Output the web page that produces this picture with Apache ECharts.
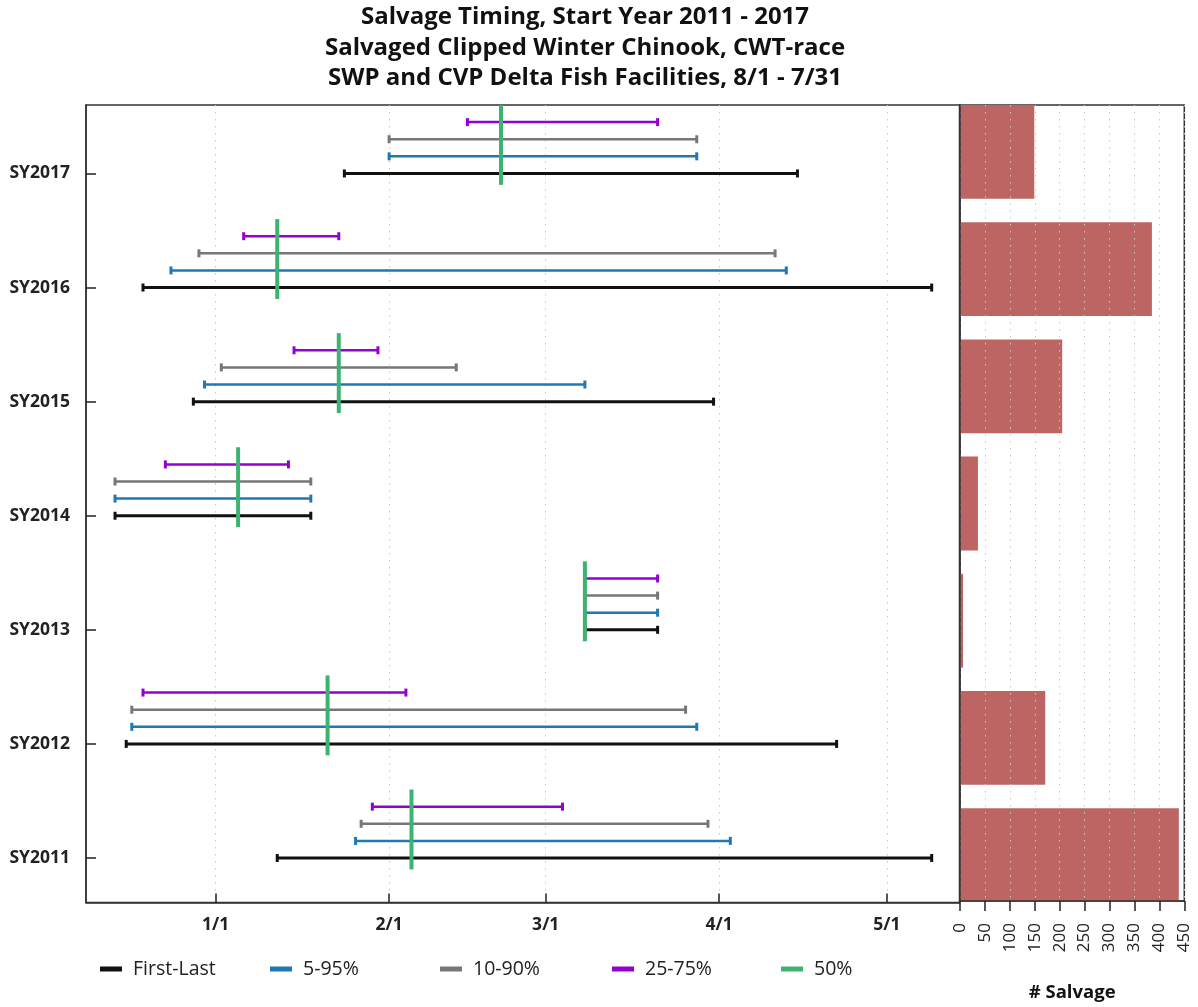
<!DOCTYPE html>
<html><head><meta charset="utf-8">
<script src="https://cdn.jsdelivr.net/npm/echarts@6/dist/echarts.min.js"></script>
<style>html,body{margin:0;padding:0;background:#fff}#chart{width:1198px;height:1007px}</style>
</head><body><div id="chart"></div>
<script>
// ---- data (season dates as M/D; Aug-Dec belong to the previous calendar year) ----
const categories = ['SY2011','SY2012','SY2013','SY2014','SY2015','SY2016','SY2017'];
const firstDate = ['1/12','12/16','3/8','12/14','12/28','12/19','1/24'];
const lastDate  = ['5/9','4/22','3/21','1/18','3/31','5/9','4/15'];
const p5Date    = ['1/26','12/17','3/8','12/14','12/30','12/24','2/1'];
const p95Date   = ['4/3','3/28','3/21','1/18','3/8','4/13','3/28'];
const p10Date   = ['1/27','12/17','3/8','12/14','1/2','12/29','2/1'];
const p90Date   = ['3/30','3/26','3/21','1/18','2/13','4/11','3/28'];
const p25Date   = ['1/29','12/19','3/8','12/23','1/15','1/6','2/15'];
const p75Date   = ['3/4','2/4','3/21','1/14','1/30','1/23','3/21'];
const p50Date   = ['2/5','1/21','3/8','1/5','1/23','1/12','2/21'];
const salvage   = [439, 171, 6, 36, 205, 385, 149];
const xTickLabels = ['1/1','2/1','3/1','4/1','5/1'];
const salvageTicks = [0,50,100,150,200,250,300,350,400,450];

const MONTH_START = [0,31,59,90,120,151,181,212,243,273,304,334];
function toDay(md){
  const [m,d] = md.split('/').map(Number);
  let v = MONTH_START[m-1] + d - 1;
  if (m >= 8) v -= 365;
  return v;
}
const tickDays = xTickLabels.map(toDay);
const FONT = 'Open Sans';

function rangeSeries(name, color, starts, ends, offset, lw){
  return {
    type:'custom', name, xAxisIndex:0, yAxisIndex:0, z:3,
    itemStyle:{color},
    data: categories.map((c,i)=>[toDay(starts[i]), toDay(ends[i]), i]),
    encode:{x:[0,1], y:2},
    renderItem(params, api){
      const y = api.value(2) + offset;
      const p1 = api.coord([api.value(0), y]);
      const p2 = api.coord([api.value(1), y]);
      const h = 4;
      return {type:'group', children:[
        {type:'line', shape:{x1:p1[0],y1:p1[1],x2:p2[0],y2:p2[1]}, style:{stroke:color, lineWidth:lw}},
        {type:'line', shape:{x1:p1[0],y1:p1[1]-h,x2:p1[0],y2:p1[1]+h}, style:{stroke:color, lineWidth:3}},
        {type:'line', shape:{x1:p2[0],y1:p2[1]-h,x2:p2[0],y2:p2[1]+h}, style:{stroke:color, lineWidth:3}}
      ]};
    }
  };
}

const series = [
  rangeSeries('First-Last', '#111111', firstDate, lastDate, 0, 3),
  rangeSeries('5-95%', '#1f77b4', p5Date, p95Date, 0.15, 2.5),
  rangeSeries('10-90%', '#777777', p10Date, p90Date, 0.3, 2.5),
  rangeSeries('25-75%', '#9400d3', p25Date, p75Date, 0.45, 2.5),
  {
    type:'custom', name:'50%', xAxisIndex:0, yAxisIndex:0, z:4,
    itemStyle:{color:'#3cb371'},
    data: categories.map((c,i)=>[toDay(p50Date[i]), i]),
    encode:{x:0, y:1},
    renderItem(params, api){
      const a = api.coord([api.value(0), api.value(1) - 0.1]);
      const b = api.coord([api.value(0), api.value(1) + 0.6]);
      return {type:'rect', shape:{x:a[0]-2, y:b[1], width:4, height:a[1]-b[1]}, style:{fill:'#3cb371'}};
    }
  },
  {
    type:'bar', name:'# Salvage', xAxisIndex:1, yAxisIndex:1, z:2,
    data: salvage, barCategoryGap:'20%',
    itemStyle:{color:'#bd6562'}
  }
];

const legendNames = ['First-Last','5-95%','10-90%','25-75%','50%'];
const legendLeft = [100, 270, 440, 612, 781];
const legends = legendNames.map((n,i)=>({
  data:[{name:n, icon:'rect'}], left:legendLeft[i], top:959, padding:0,
  itemWidth:22, itemHeight:5, itemGap:0, selectedMode:false,
  textStyle:{fontFamily:FONT, fontSize:19.5, color:'#222', padding:[0,0,0,6]}
}));

const dotted = {show:true, lineStyle:{color:'#c8c8c8', type:[1.5,5.5], width:1}};

const option = {
  animation:false,
  backgroundColor:'#fff',
  title:{
    text:'Salvage Timing, Start Year 2011 - 2017\nSalvaged Clipped Winter Chinook, CWT-race\nSWP and CVP Delta Fish Facilities, 8/1 - 7/31',
    left:585, top:2, textAlign:'center', padding:0,
    textStyle:{fontFamily:FONT, fontWeight:'bold', fontSize:24, lineHeight:30.5, color:'#111'}
  },
  legend: legends,
  grid:[
    {left:86, right:238.5, top:105, bottom:104.5, show:true, borderColor:'#333', borderWidth:1.5, backgroundColor:'transparent'},
    {left:960, right:13.7, top:93.3, bottom:93.3, show:false},
    {left:960, right:13.7, top:105, bottom:104.5, show:true, borderColor:'#333', borderWidth:1.5, backgroundColor:'transparent'}
  ],
  xAxis:[
    {type:'value', gridIndex:0, min:-23.19, max:132.97,
     axisLine:{show:true, onZero:false, lineStyle:{color:'#333', width:1.5}},
     axisTick:{show:true, inside:true, length:9, customValues:tickDays, lineStyle:{color:'#222', width:1.5}},
     axisLabel:{customValues:tickDays, margin:14, fontFamily:FONT, fontWeight:'bold', fontSize:17.5, color:'#222',
       formatter:(v)=>xTickLabels[tickDays.indexOf(Math.round(v))]},
     splitLine:dotted},
    {type:'value', gridIndex:1, min:0, max:450, show:false},
    {type:'value', gridIndex:2, min:0, max:450, interval:50, z:5,
     axisLine:{show:true, onZero:false, lineStyle:{color:'#333', width:1.5}},
     axisTick:{show:true, inside:false, length:10, lineStyle:{color:'#222', width:1.5}},
     axisLabel:{rotate:90, margin:22, fontFamily:FONT, fontSize:17, color:'#222', customValues:salvageTicks},
     splitLine:dotted,
     name:'# Salvage', nameLocation:'middle', nameGap:82,
     nameTextStyle:{fontFamily:FONT, fontWeight:'bold', fontSize:18.5, color:'#111'}}
  ],
  yAxis:[
    {type:'value', gridIndex:0, min:-0.39, max:6.6,
     axisLine:{show:true, onZero:false, lineStyle:{color:'#333', width:1.5}},
     axisTick:{show:true, inside:true, length:10, customValues:[0,1,2,3,4,5,6], lineStyle:{color:'#222', width:1.5}},
     axisLabel:{customValues:[0,1,2,3,4,5,6], margin:16, fontFamily:FONT, fontWeight:'bold', fontSize:17.5, color:'#222',
       formatter:(v)=>categories[Math.round(v)]},
     splitLine:{show:false}},
    {type:'category', gridIndex:1, data:categories, show:false},
    {type:'value', gridIndex:2, min:0, max:1, z:6,
     axisLine:{show:true, onZero:false, lineStyle:{color:'#333', width:1.5}},
     axisTick:{show:false}, axisLabel:{show:false}, splitLine:{show:false}}
  ],
  series
};
const chart = echarts.init(document.getElementById('chart'), null, {renderer:'canvas'});
chart.setOption(option);
</script></body></html>
